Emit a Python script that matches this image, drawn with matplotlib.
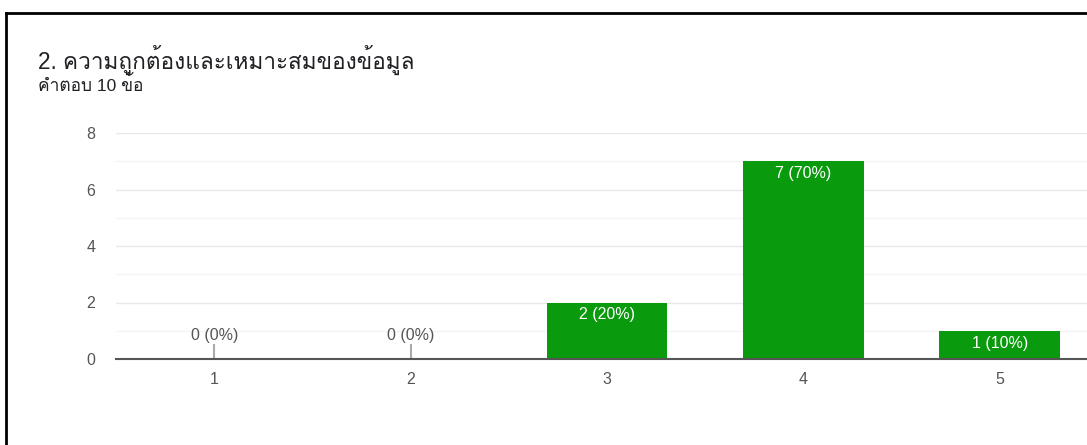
import matplotlib
matplotlib.use('Agg')
import matplotlib.pyplot as plt
from matplotlib import font_manager
from matplotlib.ft2font import FT2Font
from matplotlib.lines import Line2D

# data
categories = ['1', '2', '3', '4', '5']
counts = [0, 0, 2, 7, 1]
total = 10
title = '2. ความถูกต้องและเหมาะสมของข้อมูล'
subtitle = 'คำตอบ 10 ข้อ'


def thai_font():
    # look for any installed font that has Thai glyphs
    for f in font_manager.fontManager.ttflist:
        try:
            if 0x0E04 in FT2Font(f.fname).get_charmap():
                return f.name
        except Exception:
            pass
    return None


fams = ['Liberation Sans', 'DejaVu Sans']
th = thai_font()
if th:
    fams = ['Liberation Sans', th, 'DejaVu Sans']
plt.rcParams['font.family'] = fams

green = '#0a9a0e'
text_gray = '#555555'

fig = plt.figure(figsize=(10.87, 4.45), dpi=100)
ax = fig.add_axes([116 / 1087, 86 / 445, 982 / 1087, 226 / 445])

x = list(range(1, len(categories) + 1))
ax.bar(x, counts, width=0.615, color=green, zorder=3)

for xi, c in zip(x, counts):
    lab = '%d (%d%%)' % (c, round(100 * c / total))
    if c == 0:
        ax.vlines(xi, 0, 0.52, color='#aaaaaa', lw=1.5, zorder=3)
        ax.text(xi, 0.55, lab, ha='center', va='bottom', fontsize=11.5, color=text_gray)
    else:
        ax.annotate(lab, (xi, c), xytext=(0, -3.5), textcoords='offset points',
                    ha='center', va='top', fontsize=11.5, color='white', zorder=4)

ax.set_xlim(0.5, 5.5)
ax.set_ylim(0, 8)
ax.set_xticks(x)
ax.set_xticklabels(categories)
ax.set_yticks([0, 2, 4, 6, 8])
ax.set_yticks([1, 3, 5, 7], minor=True)
ax.grid(axis='y', which='major', color='#e8e8e8', lw=1, zorder=0)
ax.grid(axis='y', which='minor', color='#f4f4f4', lw=1, zorder=0)
ax.tick_params(axis='both', which='both', length=0, labelsize=11.5, colors=text_gray)
ax.tick_params(axis='y', pad=15)
ax.tick_params(axis='x', pad=9)
for s in ['top', 'right', 'left']:
    ax.spines[s].set_visible(False)
ax.spines['bottom'].set_color('#555555')
ax.spines['bottom'].set_linewidth(1.5)
ax.spines['bottom'].set_zorder(5)

fig.text(38 / 1087, 1 - 69 / 445, title, fontsize=16.3, color='#202124', va='baseline')
fig.text(38 / 1087, 1 - 91 / 445, subtitle, fontsize=12.5, color='#202124', va='baseline')

# black frame on top and left
fig.add_artist(Line2D([6 / 1087, 1], [1 - 13 / 445, 1 - 13 / 445], color='black', lw=2))
fig.add_artist(Line2D([6 / 1087, 6 / 1087], [0, 1 - 13 / 445], color='black', lw=2))

fig.savefig('out.png', dpi=100)
